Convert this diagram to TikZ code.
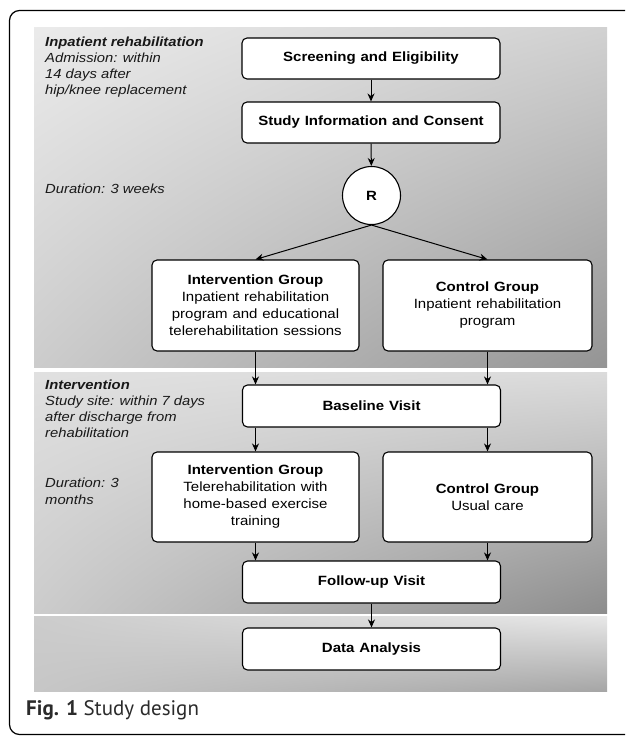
\documentclass[tikz,border=0pt]{standalone}
\usepackage{fontspec}
\setmainfont[FakeStretch=1.12]{Liberation Sans}
\newfontfamily\capfont{PT Sans}
\usetikzlibrary{arrows.meta,shapes.geometric,shadings}
\definecolor{capgray}{HTML}{2B2B2B}
\newcommand{\boxfont}{\fontsize{13.4}{17}\selectfont\spaceskip=0.36em\relax}
\begin{document}
\begin{tikzpicture}[x=1pt,y=-1pt,
  box/.style={draw=black, line width=1.1pt, fill=white, rounded corners=5pt, inner sep=0pt,
    align=center, font=\boxfont},
  rbox/.style={draw=black, line width=1.1pt, fill=white, circle, inner sep=0pt, minimum size=58pt,
    font=\bfseries\fontsize{13.4}{17}\selectfont},
  lab/.style={inner sep=0pt, align=left, font=\itshape\fontsize{13.2}{16.1}\selectfont, text=black!90},
  arr/.style={-{Stealth[length=8pt,width=7pt]}, line width=1pt}]
\useasboundingbox (0,0) rectangle (625,736);
\fill[white] (0,0) rectangle (625,736);
\begin{scope}
\clip (0,0) rectangle (625,736);
\draw[line width=1.2pt, rounded corners=10pt] (9.5,10.5) rectangle (670,734.5);
\end{scope}
% panels
\shade[shading=bilinear interpolation, upper left=black!8, upper right=black!18, lower left=black!20, lower right=black!42] (34,27) rectangle (607,367);
\shade[shading=bilinear interpolation, upper left=black!12, upper right=black!14, lower left=black!20, lower right=black!45] (34,372) rectangle (607,613);
\shade[shading=bilinear interpolation, upper left=black!20, upper right=black!9, lower left=black!22, lower right=black!35] (34,616) rectangle (607,691);
% left labels
\node[lab, anchor=north west] (l1) at (45,36.5) {\textbf{Inpatient rehabilitation}\\Admission: within\\14 days after\\hip/knee replacement};
\node[lab, anchor=base west] (l2) at (45,193) {Duration: 3 weeks};
\node[lab, anchor=north west] (l3) at (45,379.8) {\textbf{Intervention}\\Study site: within 7 days\\after discharge from\\rehabilitation};
\node[lab, anchor=north west] (l4) at (45,478.2) {Duration: 3\\months};
% boxes
\node[box, minimum width=258pt, minimum height=41pt] (screen) at (371,58.5) {\bfseries Screening and Eligibility};
\node[box, minimum width=258pt, minimum height=41pt] (consent) at (371,122.5) {\bfseries Study Information and Consent};
\node[rbox] (R) at (371.5,195.5) {R};
\node[box, minimum width=207pt, minimum height=91pt] (ig1) at (255.5,305.5) {\textbf{Intervention Group}\\Inpatient rehabilitation\\program and educational\\telerehabilitation sessions};
\node[box, minimum width=209pt, minimum height=91pt] (cg1) at (487.5,305.5) {\textbf{Control Group}\\Inpatient rehabilitation\\program};
\node[box, minimum width=258pt, minimum height=42pt] (base) at (371.5,406) {\bfseries Baseline Visit};
\node[box, minimum width=207pt, minimum height=90pt] (ig2) at (255.5,497) {\textbf{Intervention Group}\\Telerehabilitation with\\home-based exercise\\training};
\node[box, minimum width=209pt, minimum height=90pt] (cg2) at (487.5,497) {\textbf{Control Group}\\Usual care};
\node[box, minimum width=258pt, minimum height=42pt] (fu) at (371.5,582) {\bfseries Follow-up Visit};
\node[box, minimum width=258pt, minimum height=42pt] (data) at (371.5,649) {\bfseries Data Analysis};
% arrows
\draw[arr] (screen) -- (consent);
\draw[arr] (consent) -- (R);
\draw[arr] (R.south) -- (ig1.north);
\draw[arr] (R.south) -- (cg1.north);
\draw[arr] (ig1.south) -- (ig1.south |- base.north);
\draw[arr] (cg1.south) -- (cg1.south |- base.north);
\draw[arr] (base.south -| ig2.north) -- (ig2.north);
\draw[arr] (base.south -| cg2.north) -- (cg2.north);
\draw[arr] (ig2.south) -- (ig2.south |- fu.north);
\draw[arr] (cg2.south) -- (cg2.south |- fu.north);
\draw[arr] (fu) -- (data);
% caption
\node[anchor=base west, inner sep=0pt, font=\capfont\fontsize{21}{25}\selectfont, text=capgray] (cap) at (26,715) {\textbf{Fig. 1} Study design};
\end{tikzpicture}
\end{document}
